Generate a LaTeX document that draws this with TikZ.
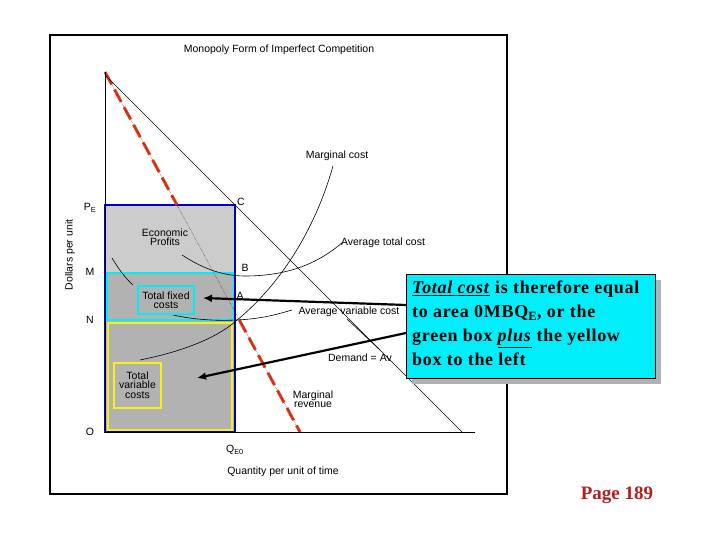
\documentclass[tikz,border=0pt]{standalone}
\usepackage{fontspec}
\setmainfont{Liberation Sans}
\newfontfamily\serifb{Liberation Serif}
\usetikzlibrary{arrows.meta}
\definecolor{boxblue}{RGB}{0,0,200}
\definecolor{cyanbox}{RGB}{0,238,250}
\definecolor{yel}{RGB}{250,240,20}
\definecolor{mred}{RGB}{230,60,30}
\definecolor{pagered}{RGB}{180,30,30}
\tikzset{lbl/.style={font=\fontsize{10.5}{11.5}\selectfont, inner sep=1pt, align=center},
curve/.style={black, line width=0.6pt},
mrline/.style={mred, line width=3pt, dash pattern=on 14pt off 6pt},
ptr/.style={line width=2.2pt, -{Latex[length=9pt,width=8pt]}}}
\begin{document}
\begin{tikzpicture}[x=1pt,y=-1pt]
\useasboundingbox (0,0) rectangle (720,540);
\draw[line width=1.5pt] (50,35) rectangle (507,494);
\node[lbl] (title) at (279,50) {Monopoly Form of Imperfect Competition};
% boxes
\fill[gray!40] (105,205) rectangle (235,272);
\fill[gray!60] (105,272) rectangle (235,432);
\draw[cyanbox, line width=2.5pt] (107,273) rectangle (234,320);
\draw[yel, line width=2.5pt] (108,323) rectangle (232,430);
\draw[boxblue, line width=2.5pt] (105,205) rectangle (235,432);
% MR (hidden behind boxes)
\coordinate (mr1) at (105,72);
\coordinate (mra) at (177,205);
\coordinate (mrb) at (239.3,320);
\coordinate (mr2) at (300,432);
\draw[mrline] (mr1) -- (mra);
\draw[mrline] (mrb) -- (mr2);
\draw[black, densely dotted, line width=0.4pt] (mr1) -- (mr2);
% axes
\coordinate (top) at (105,72);
\coordinate (orig) at (105,432);
\coordinate (xend) at (475,432);
\draw[line width=0.8pt] (top) -- (orig) -- (xend);
% demand
\coordinate (d1) at (105,75);
\coordinate (d2) at (462,432);
\draw[curve] (d1) -- (d2);
% MC
\draw[curve] (140,360) .. controls (190,350) and (220,335) .. (236,321) .. controls (280,285) and (315,230) .. (333,166);
% ATC
\draw[curve] (112,258) .. controls (118,268) and (125,278) .. (133,285);
\draw[curve] (182,255) .. controls (205,270) and (225,276) .. (245,276) .. controls (290,276) and (320,262) .. (343,242);
% AVC
\draw[curve] (173,315) .. controls (195,320) and (220,321) .. (236,320) .. controls (260,319) and (275,315) .. (292,310);
% demand label pointer
\draw[curve] (347,319) -- (380,350);
% labels
\node[lbl] (mc) at (337,156) {Marginal cost};
\node[lbl] (atc) at (383,243) {Average total cost};
\node[lbl] (avc) at (349,312) {Average variable cost};
\node[lbl] (dem) at (360,358) {Demand = Av};
\node[lbl] (mrl) at (313,399) {Marginal\\[-2pt]revenue};
\node[lbl] (lc) at (241,202) {C};
\node[lbl] (lb) at (245,268) {B};
\node[lbl] (la) at (240,296) {A};
\node[lbl] (pe) at (90,208) {P\textsubscript{E}};
\node[lbl] (lm) at (90,272) {M};
\node[lbl] (ln) at (90,320) {N};
\node[lbl] (lo) at (90,432) {O};
\node[lbl] (qe) at (235,450) {Q\textsubscript{E0}};
\node[lbl] (xl) at (283,472) {Quantity per unit of time};
\node[lbl, rotate=90] (yl) at (70,255) {Dollars per unit};
\node[lbl] (ep) at (165,237) {Economic\\[-2pt]Profits};
\node[lbl, draw=cyanbox, line width=2pt, minimum width=56pt, minimum height=28pt, inner sep=1pt] (tfc) at (166,300) {Total fixed\\[-2pt]costs};
\node[lbl, draw=yel, line width=2pt, minimum width=47pt, minimum height=45pt, inner sep=1pt] (tvc) at (137.5,385) {Total\\[-2pt]variable\\[-2pt]costs};
% callout
\fill[gray!60] (412,280) rectangle (661,384);
\node[draw=black, line width=1pt, fill=cyanbox, minimum width=249pt, minimum height=104pt, anchor=north west, inner sep=0pt] (call) at (406,274) {};
\node[anchor=north west, align=left, font=\serifb\bfseries\fontsize{18}{24}\selectfont\addfontfeatures{LetterSpace=4}, inner sep=0pt] (ctext) at (412,281)
{\underline{\textit{Total cost}} is therefore equal\\to area 0MBQ\textsubscript{E}, or the\\green box \underline{\textit{plus}} the yellow\\box to the left};
\coordinate (s1) at (406,305);
\coordinate (s2) at (406,333);
\coordinate (e1) at (203,298);
\coordinate (e2) at (197,378);
\draw[ptr] (s1) -- (e1);
\draw[ptr] (s2) -- (e2);
\node[font=\serifb\bfseries\fontsize{19}{22}\selectfont, text=pagered] (page) at (617,495) {Page 189};
\end{tikzpicture}
\end{document}
